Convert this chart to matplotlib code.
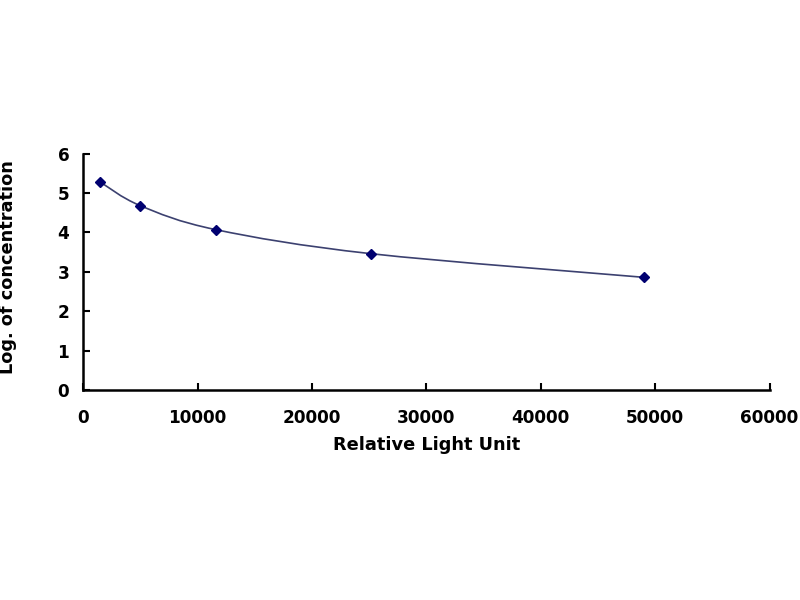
import matplotlib
matplotlib.use("Agg")
import matplotlib.pyplot as plt
from matplotlib.path import Path
from matplotlib.patches import PathPatch
import numpy as np

plt.rcParams['font.family'] = ['DejaVu Sans']
plt.rcParams['font.weight'] = 'bold'

# standard curve points
rlu = [1480, 4980, 11590, 25150, 49000]
log_conc = [5.28, 4.68, 4.07, 3.46, 2.86]

x_ticks = [0, 10000, 20000, 30000, 40000, 50000, 60000]
y_ticks = [0, 1, 2, 3, 4, 5, 6]


def smooth_path(ax, xs, ys, tension=1 / 6):
    # Excel-like smoothed line: cubic bezier through points, built in pixel space
    pts = ax.transData.transform(np.column_stack([xs, ys]))
    verts = [pts[0]]
    codes = [Path.MOVETO]
    n = len(pts)
    for i in range(n - 1):
        p0 = pts[i - 1] if i > 0 else pts[i]
        p1 = pts[i]
        p2 = pts[i + 1]
        p3 = pts[i + 2] if i + 2 < n else pts[i + 1]
        c1 = p1 + (p2 - p0) * tension
        c2 = p2 - (p3 - p1) * tension
        verts += [c1, c2, p2]
        codes += [Path.CURVE4] * 3
    return Path(verts, codes)


fig = plt.figure(figsize=(8, 6), dpi=100)
ax = fig.add_axes([0.104, 0.35, 0.858, 0.394])
ax.set_xlim(0, 60000)
ax.set_ylim(0, 6)

path = smooth_path(ax, rlu, log_conc)
patch = PathPatch(path, facecolor='none', edgecolor='#3c4170', lw=1.2,
                  transform=None)
ax.add_artist(patch)
ax.plot(rlu, log_conc, linestyle='none', marker='D', markersize=5,
        color='#000070')

ax.set_xticks(x_ticks)
ax.set_yticks(y_ticks)
ax.tick_params(direction='in', length=5, width=1.5, labelsize=12.2)
ax.tick_params(axis='x', pad=14)
ax.tick_params(axis='y', pad=10)
for s in ['top', 'right']:
    ax.spines[s].set_visible(False)
for s in ['left', 'bottom']:
    ax.spines[s].set_linewidth(1.8)

ax.set_xlabel('Relative Light Unit', fontsize=12.8, fontweight='bold', labelpad=6)
ax.set_ylabel('Log. of concentration', fontsize=12.8, fontweight='bold')
ax.yaxis.set_label_coords(-0.097, 0.52)

fig.savefig('out.png', dpi=100)
